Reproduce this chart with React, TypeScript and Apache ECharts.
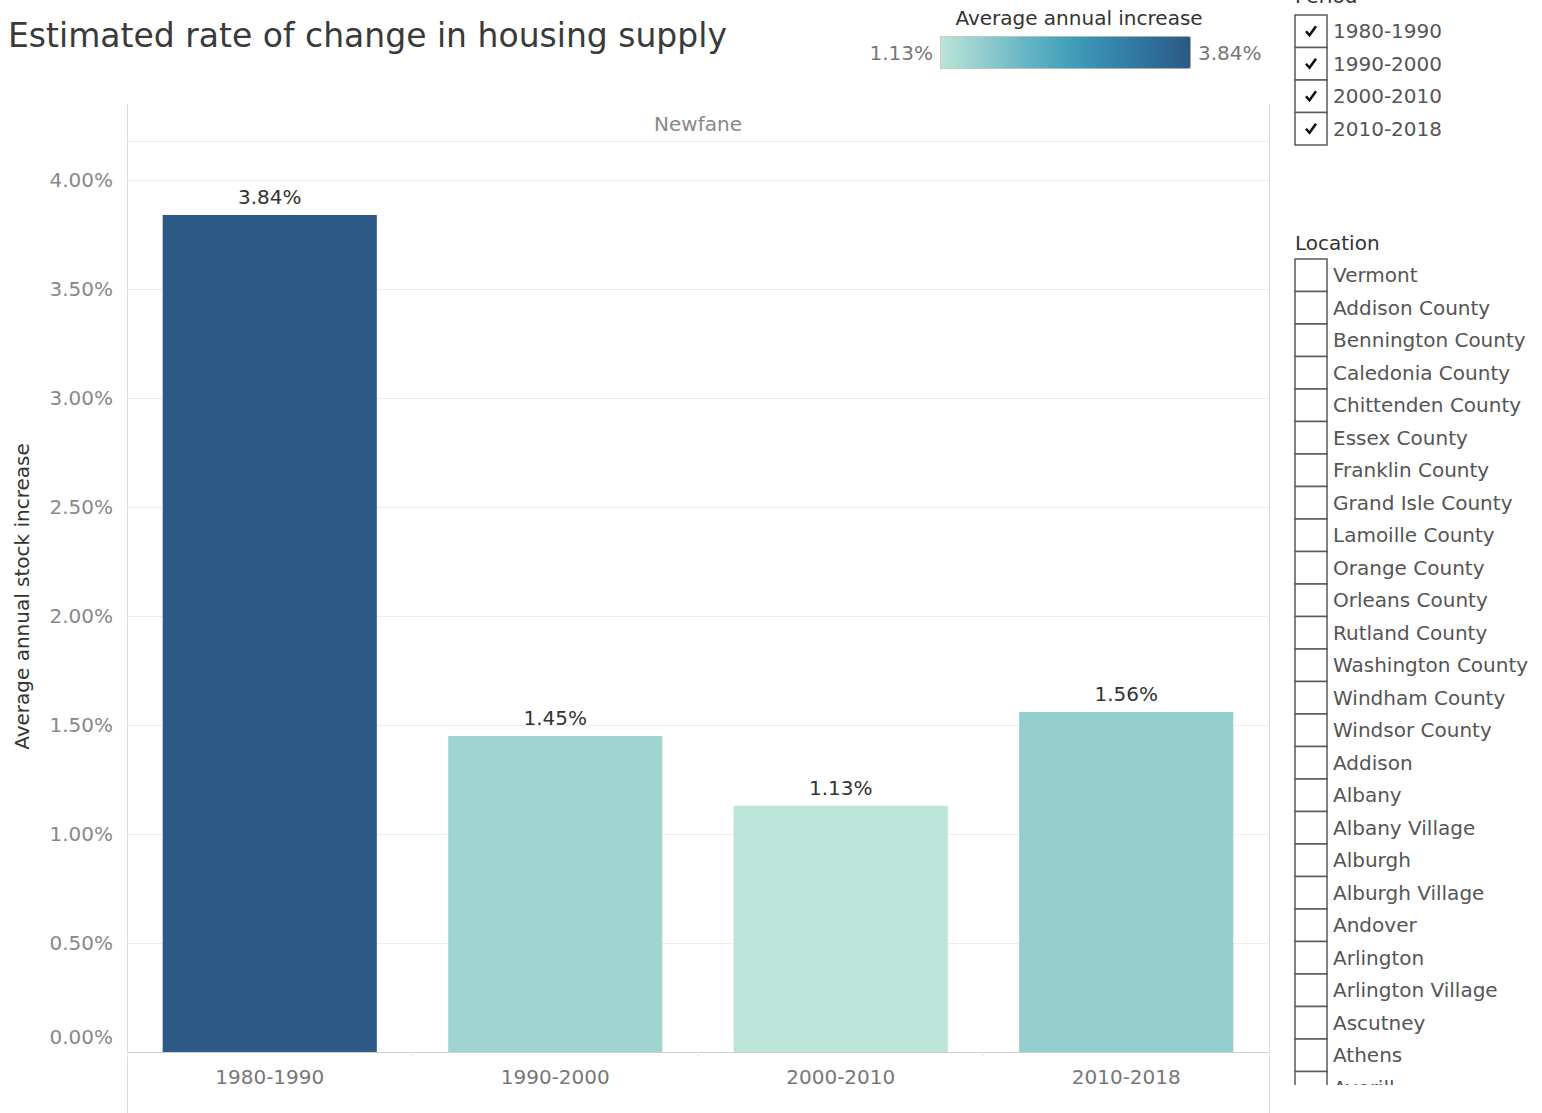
import React, { useEffect, useRef } from "react";
import * as echarts from "echarts";

const periods = ["1980-1990", "1990-2000", "2000-2010", "2010-2018"];
const rates = [3.84, 1.45, 1.13, 1.56];
const locations = [
  "Vermont", "Addison County", "Bennington County", "Caledonia County", "Chittenden County",
  "Essex County", "Franklin County", "Grand Isle County", "Lamoille County", "Orange County",
  "Orleans County", "Rutland County", "Washington County", "Windham County", "Windsor County",
  "Addison", "Albany", "Albany Village", "Alburgh", "Alburgh Village", "Andover", "Arlington",
  "Arlington Village", "Ascutney", "Athens", "Averill",
];
const rampColors = ["#bce4d8", "#93cdce", "#68b7c5", "#45a1bb", "#3589ad", "#2f719a", "#2c5985"];

const FONT = "DejaVu Sans";

export default function App() {
  const ref = useRef<HTMLDivElement>(null);
  useEffect(() => {
    if (!ref.current) return;
    const chart = echarts.init(ref.current, undefined, { renderer: "svg" });
    const minV = Math.min(...rates);
    const maxV = Math.max(...rates);

    const graphics: any[] = [];
    graphics.push({
      type: "text", x: 8, y: 35,
      style: { text: "Estimated rate of change in housing supply", fill: "#3a3a3a", font: `33px "${FONT}"`, verticalAlign: "middle" },
    });
    graphics.push({
      type: "text", x: 1079, y: 18,
      style: { text: "Average annual increase", fill: "#333", font: `20px "${FONT}"`, align: "center", verticalAlign: "middle" },
    });
    graphics.push({
      type: "text", x: 933, y: 53,
      style: { text: minV.toFixed(2) + "%", fill: "#777", font: `20px "${FONT}"`, align: "right", verticalAlign: "middle" },
    });
    graphics.push({
      type: "text", x: 1198, y: 53,
      style: { text: maxV.toFixed(2) + "%", fill: "#777", font: `20px "${FONT}"`, align: "left", verticalAlign: "middle" },
    });
    graphics.push({ type: "line", shape: { x1: 127.5, y1: 104, x2: 127.5, y2: 1113 }, style: { stroke: "#d9d9d9", lineWidth: 1 } });
    graphics.push({ type: "line", shape: { x1: 1269.5, y1: 104, x2: 1269.5, y2: 1113 }, style: { stroke: "#d9d9d9", lineWidth: 1 } });
    graphics.push({ type: "line", shape: { x1: 127, y1: 141.5, x2: 1270, y2: 141.5 }, style: { stroke: "#d0d0d0", lineWidth: 1 } });
    graphics.push({
      type: "text", x: 698, y: 124,
      style: { text: "Newfane", fill: "#888", font: `20px "${FONT}"`, align: "center", verticalAlign: "middle" },
    });

    const boxX = 1295, boxW = 32, rowH = 32.5, labelX = 1333;
    graphics.push({
      type: "text", x: 1295, y: 6,
      style: { text: "Period", fill: "#333", font: `20px "${FONT}"`, align: "left", verticalAlign: "bottom" },
    });
    periods.forEach((p, i) => {
      const top = 15 + i * rowH;
      graphics.push({ type: "rect", shape: { x: boxX, y: top, width: boxW, height: rowH }, style: { fill: "#fff", stroke: "#5a5a5a", lineWidth: 1.5 } });
      const cx = boxX + boxW / 2, cy = top + rowH / 2;
      graphics.push({ type: "polyline", shape: { points: [[cx - 5, cy], [cx - 1.5, cy + 4], [cx + 5, cy - 5]] }, style: { stroke: "#111", lineWidth: 2.6, fill: null } });
      graphics.push({ type: "text", x: labelX, y: cy, style: { text: p, fill: "#555", font: `20px "${FONT}"`, align: "left", verticalAlign: "middle" } });
    });
    graphics.push({
      type: "text", x: 1295, y: 243,
      style: { text: "Location", fill: "#333", font: `20px "${FONT}"`, align: "left", verticalAlign: "middle" },
    });
    locations.forEach((loc, i) => {
      const top = 259 + i * rowH;
      graphics.push({ type: "rect", shape: { x: boxX, y: top, width: boxW, height: rowH }, style: { fill: "#fff", stroke: "#5a5a5a", lineWidth: 1.5 } });
      graphics.push({ type: "text", x: labelX, y: top + rowH / 2, style: { text: loc, fill: "#555", font: `20px "${FONT}"`, align: "left", verticalAlign: "middle" } });
    });
    graphics.push({ type: "rect", z: 100, shape: { x: 1285, y: 1085, width: 257, height: 28 }, style: { fill: "#fff" } });

    chart.setOption({
      animation: false,
      backgroundColor: "#fff",
      textStyle: { fontFamily: FONT },
      grid: { left: 127, right: 273, top: 141, bottom: 61, containLabel: false, outerBoundsMode: "none" },
      visualMap: {
        type: "continuous",
        min: minV, max: maxV,
        dimension: 1,
        seriesIndex: 0,
        orient: "horizontal",
        left: 940, top: 36,
        itemWidth: 32, itemHeight: 250,
        padding: 0,
        calculable: false,
        showLabel: false,
        text: null,
        borderColor: "#c9c3b6", borderWidth: 1,
        inRange: { color: rampColors },
      },
      xAxis: {
        type: "category",
        data: periods,
        axisLine: { show: true, lineStyle: { color: "#d0d0d0" } },
        axisTick: { show: true, length: 5, lineStyle: { color: "#ececec" } },
        axisLabel: { color: "#777", fontSize: 20, margin: 15, fontFamily: FONT },
      },
      yAxis: {
        type: "value",
        min: 0, max: 4.18, interval: 0.5,
        name: "Average annual stock increase",
        nameLocation: "middle", nameRotate: 90, nameGap: 95,
        nameTextStyle: { color: "#333", fontSize: 20, fontFamily: FONT },
        axisLine: { show: false }, axisTick: { show: false },
        splitLine: { lineStyle: { color: "#eeeeee" } },
        axisLabel: {
          color: "#888", fontSize: 20, margin: 14, fontFamily: FONT,
          showMaxLabel: false,
          formatter: (v: number) => (v === 0 ? "{z|0.00%}" : v.toFixed(2) + "%"),
          rich: { z: { color: "#888", fontSize: 20, fontFamily: FONT, padding: [0, 0, 30, 0] } },
        },
      },
      series: [
        {
          type: "bar",
          data: periods.map((p, i) => [p, rates[i]]),
          barWidth: "75%",
          label: {
            show: true, position: "top", distance: 8,
            color: "#333", fontSize: 20, fontFamily: FONT,
            formatter: (p: any) => p.value[1].toFixed(2) + "%",
          },
        },
      ],
      graphic: graphics,
    });
    return () => chart.dispose();
  }, []);
  return <div ref={ref} style={{ width: 1542, height: 1113, position: "absolute", left: 0, top: 0 }} />;
}
